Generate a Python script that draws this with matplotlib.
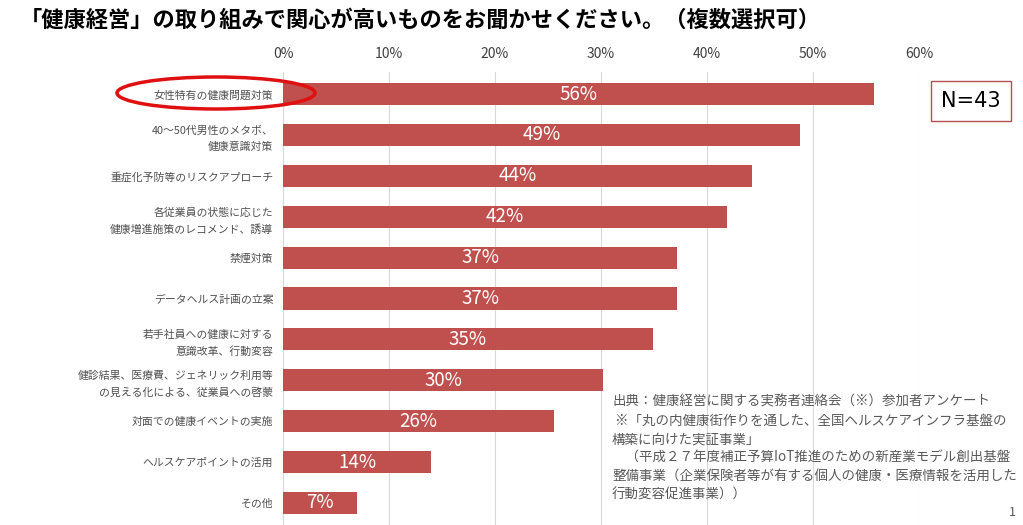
import numpy as np
import matplotlib.pyplot as plt
from matplotlib.patches import Ellipse

plt.rcParams['font.family'] = ['Noto Sans CJK JP', 'DejaVu Sans']

categories = [
    '女性特有の健康問題対策',
    '40～50代男性のメタボ、\n健康意識対策',
    '重症化予防等のリスクアプローチ',
    '各従業員の状態に応じた\n健康増進施策のレコメンド、誘導',
    '禁煙対策',
    'データヘルス計画の立案',
    '若手社員への健康に対する\n意識改革、行動変容',
    '健診結果、医療費、ジェネリック利用等\nの見える化による、従業員への啓蒙',
    '対面での健康イベントの実施',
    'ヘルスケアポイントの活用',
    'その他',
]
values = [55.8, 48.8, 44.2, 41.9, 37.2, 37.2, 34.9, 30.2, 25.6, 14.0, 7.0]
xticks = [0, 10, 20, 30, 40, 50, 60]

title = '「健康経営」の取り組みで関心が高いものをお聞かせください。（複数選択可）'
source = ('出典：健康経営に関する実務者連絡会（※）参加者アンケート\n'
          ' ※「丸の内健康街作りを通した、全国ヘルスケアインフラ基盤の\n'
          '構築に向けた実証事業」\n'
          '　（平成２７年度補正予算IoT推進のための新産業モデル創出基盤\n'
          '整備事業（企業保険者等が有する個人の健康・医療情報を活用した\n'
          '行動変容促進事業））')

bar_color = '#C0504D'

fig = plt.figure(figsize=(10.23, 5.25), dpi=100)
ax = fig.add_axes([283 / 1023, 0, (919 - 283) / 1023, (525 - 72) / 525])

y = np.arange(len(categories))
ax.barh(y, values, height=0.54, color=bar_color, zorder=3)
for yi, v in zip(y, values):
    ax.text(v / 2, yi, f'{v:.0f}%', color='white', fontsize=13.5,
            ha='center', va='center', zorder=4)

ax.set_xlim(0, 60)
ax.set_ylim(len(categories) - 0.46, -0.54)
ax.set_xticks(xticks)
ax.set_xticklabels([f'{t}%' for t in xticks], fontsize=10, color='#404040')
ax.xaxis.tick_top()
ax.tick_params(axis='x', length=0, pad=8)
ax.set_yticks(y)
ax.set_yticklabels(categories, fontsize=7.8, color='#505050', linespacing=1.75)
ax.tick_params(axis='y', length=0, pad=7)
ax.grid(axis='x', color='#D9D9D9', lw=0.8, zorder=0)
for s in ['top', 'right', 'bottom']:
    ax.spines[s].set_visible(False)
ax.spines['left'].set_color('#D9D9D9')

fig.text(20 / 1023, 1 - 20 / 525, title, fontsize=16, fontweight='bold',
         ha='left', va='center')

# red highlight ellipse around first category
fig.patches.append(Ellipse((216 / 1023, 1 - 93 / 525), 198 / 1023, 32 / 525,
                           transform=fig.transFigure, fill=False,
                           edgecolor='#E01010', lw=2.5))

fig.text(971 / 1023, 1 - 101 / 525, 'N=43', fontsize=15, ha='center', va='center',
         family='DejaVu Sans',
         bbox=dict(boxstyle='square,pad=0.5', fc='white', ec='#B05050', lw=1))

fig.text(612 / 1023, 1 - 395 / 525, source, fontsize=9.7, color='#595959',
         ha='left', va='top', linespacing=1.42)
fig.text(1012 / 1023, 1 - 512 / 525, '1', fontsize=9, color='#595959',
         ha='center', va='center')

fig.savefig('out.png', dpi=100)
